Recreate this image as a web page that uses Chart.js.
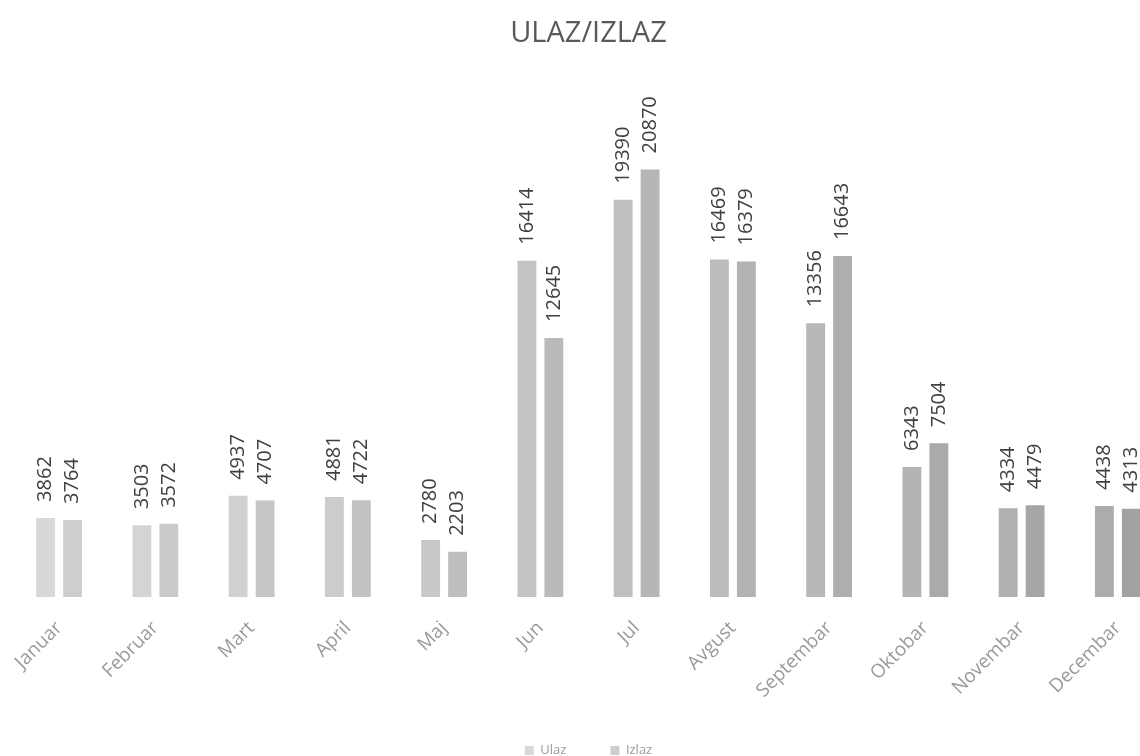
<!DOCTYPE html>
<html>
<head>
<meta charset="utf-8">
<script src="https://cdn.jsdelivr.net/npm/chart.js@4"></script>
<style>
  html, body { margin: 0; padding: 0; background: #fff; overflow: hidden; }
  #wrap { width: 1170px; height: 767px; }
</style>
</head>
<body>
<div id="wrap"><canvas id="graficoUlazIzlaz"></canvas></div>
<script>
// podaci sa grafika
const mjeseci = ['Januar','Februar','Mart','April','Maj','Jun','Jul','Avgust','Septembar','Oktobar','Novembar','Decembar'];
const ulaz = [3862,3503,4937,4881,2780,16414,19390,16469,13356,6343,4334,4438];
const izlaz = [3764,3572,4707,4722,2203,12645,20870,16379,16643,7504,4479,4313];

// siva nijansa koja tamni kroz mjesece
function siva(pocetak, i) {
    let v = Math.round(pocetak - i * 4);
    return 'rgb(' + v + ',' + v + ',' + v + ')';
}

// ispis vrijednosti iznad stubova, okrenuto vertikalno
const oznake = {
    id: 'oznake',
    afterDatasetsDraw(chart) {
        const ctx = chart.ctx;
        ctx.save();
        ctx.font = '20px "Open Sans"';
        ctx.fillStyle = '#404040';
        ctx.textAlign = 'left';
        ctx.textBaseline = 'middle';
        chart.data.datasets.forEach((ds, di) => {
            chart.getDatasetMeta(di).data.forEach((bar, i) => {
                ctx.save();
                ctx.translate(bar.x, bar.y - 16);
                ctx.rotate(-Math.PI / 2);
                ctx.fillText(String(ds.data[i]), 0, 0);
                ctx.restore();
            });
        });
        ctx.restore();
    }
};

let platno = document.getElementById('graficoUlazIzlaz').getContext('2d');
let grafik = new Chart(platno, {
    type: 'bar',
    data: {
        labels: mjeseci,
        datasets: [{
            label: 'Ulaz',
            data: ulaz,
            backgroundColor: c => siva(216, c.dataIndex),
            categoryPercentage: 0.56,
            barPercentage: 0.7
        },
        {
            label: 'Izlaz',
            data: izlaz,
            backgroundColor: c => siva(206, c.dataIndex),
            categoryPercentage: 0.56,
            barPercentage: 0.7
        }]
    },
    options: {
        responsive: true,
        maintainAspectRatio: false,
        animation: false,
        layout: { padding: { left: 11, right: 4, top: 0, bottom: 0 } },
        plugins: {
            title: {
                display: true,
                text: 'ULAZ/IZLAZ',
                color: '#595959',
                font: { family: '"Open Sans"', size: 29, weight: 'normal' },
                padding: { top: 16, bottom: 34 }
            },
            legend: {
                position: 'bottom',
                labels: {
                    color: '#9a9a9a',
                    font: { family: '"Open Sans"', size: 13 },
                    boxWidth: 9,
                    boxHeight: 9,
                    padding: 44
                }
            },
            tooltip: { enabled: false }
        },
        scales: {
            x: {
                grid: { display: false },
                border: { display: false },
                ticks: {
                    color: '#9a9a9a',
                    font: { family: '"Open Sans"', size: 19 },
                    maxRotation: 45,
                    minRotation: 45,
                    padding: 12
                },
                afterFit(scale) { scale.height = 103; }
            },
            y: {
                display: false,
                min: 0,
                max: 25000
            }
        }
    },
    plugins: [oznake]
});
</script>
</body>
</html>
